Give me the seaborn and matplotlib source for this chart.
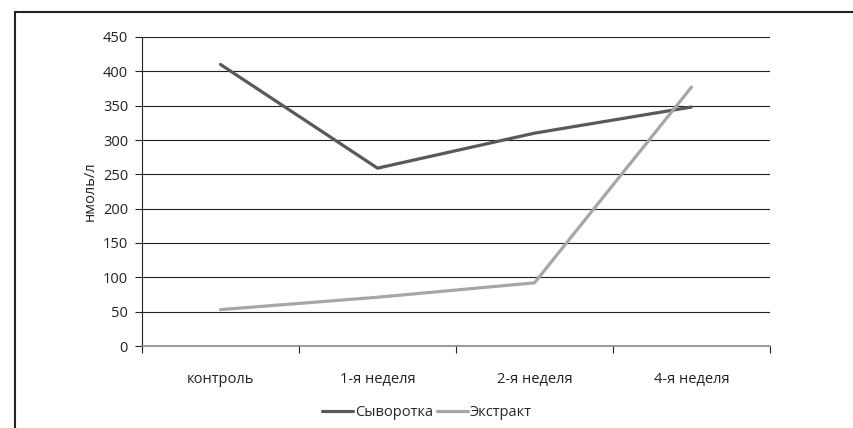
import matplotlib
matplotlib.use("Agg")
import matplotlib.pyplot as plt
import seaborn as sns
import pandas as pd
from matplotlib.lines import Line2D

categories = ["контроль", "1-я неделя", "2-я неделя", "4-я неделя"]
serum = [410, 259, 310, 348]
extract = [53, 71, 92, 377]
series_names = ["Сыворотка", "Экстракт"]
y_ticks = [0, 50, 100, 150, 200, 250, 300, 350, 400, 450]

sns.set_theme(style="white")
plt.rcParams["font.family"] = ["Open Sans", "DejaVu Sans"]

df = pd.DataFrame({
    "cat": categories * 2,
    "val": serum + extract,
    "series": [series_names[0]] * 4 + [series_names[1]] * 4,
})

fs = 10.5
fig = plt.figure(figsize=(8.54, 4.28), dpi=100)
ax = fig.add_axes([142 / 854, 82 / 428, 628 / 854, 309 / 428])

palette = {series_names[0]: "#595959", series_names[1]: "#A6A6A6"}
sns.lineplot(data=df, x="cat", y="val", hue="series", palette=palette,
             linewidth=2.3, ax=ax, legend=False, sort=False)

ax.set_xlim(-0.5, 3.5)
ax.set_ylim(0, 450)
ax.set_yticks(y_ticks)
ax.set_yticklabels([str(v) for v in y_ticks], fontsize=fs, color="#222222")
ax.set_xticks(range(len(categories)))
ax.set_xticklabels(categories, fontsize=fs, color="#222222")
ax.set_xlabel("")
ax.set_ylabel("нмоль/л", fontsize=fs, color="#222222", labelpad=4)

# grid
ax.yaxis.grid(True, color="#222222", linewidth=0.8)
ax.set_axisbelow(True)

for s in ["top", "right"]:
    ax.spines[s].set_visible(False)
ax.spines["left"].set_color("#222222")
ax.spines["left"].set_linewidth(0.8)
ax.spines["bottom"].set_color("#808080")
ax.spines["bottom"].set_linewidth(1.1)

ax.tick_params(axis="y", left=True, length=5, width=0.8, color="#222222", pad=5)
ax.tick_params(axis="x", bottom=False, pad=13)
# minor ticks at category boundaries
ax.set_xticks([-0.5, 0.5, 1.5, 2.5, 3.5], minor=True)
ax.tick_params(axis="x", which="minor", bottom=True, length=5, width=0.8, color="#222222")

handles = [Line2D([0], [0], color=palette[n], linewidth=2.3) for n in series_names]
fig.legend(handles, series_names, loc="center", bbox_to_anchor=(0.5, 15 / 428),
           ncol=2, frameon=False, fontsize=fs, handlelength=2.1,
           handletextpad=0.15, columnspacing=0.3)

# outer border (left, top, right)
x0 = 15 / 854
ytop = 1 - 12 / 428
fig.add_artist(Line2D([x0, x0], [0, ytop], transform=fig.transFigure, color="#222222", linewidth=1.5))
fig.add_artist(Line2D([x0, 1 - 1 / 854], [ytop, ytop], transform=fig.transFigure, color="#222222", linewidth=1.5))

fig.savefig("out.png", dpi=100)
